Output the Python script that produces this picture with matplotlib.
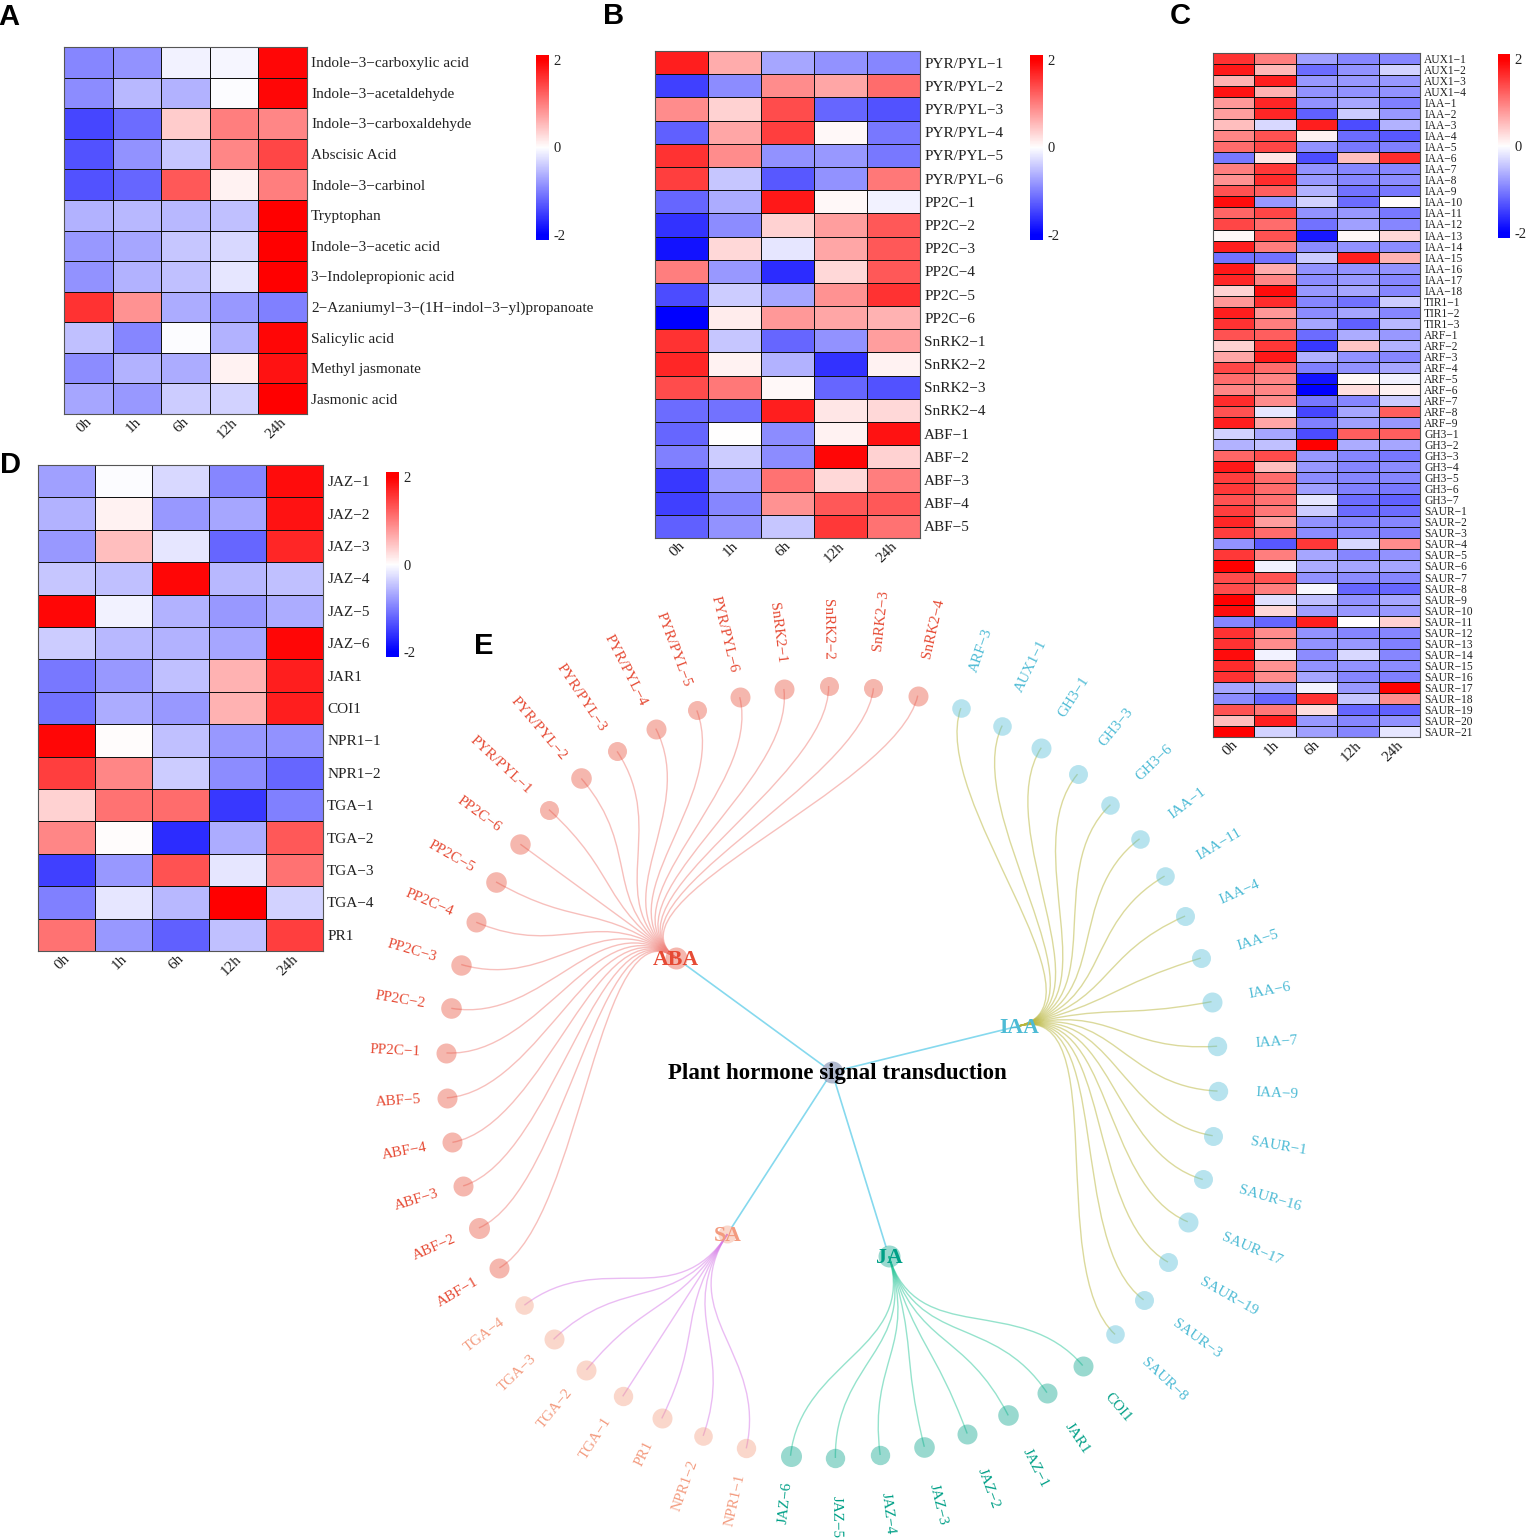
# Hormone heatmaps (A-D) and radial signal transduction tree (E)
import numpy as np
import matplotlib
matplotlib.use("Agg")
import matplotlib.pyplot as plt
from matplotlib.colors import LinearSegmentedColormap
from matplotlib.path import Path
from matplotlib.patches import PathPatch
from matplotlib.transforms import ScaledTranslation

plt.rcParams["font.family"] = ["Liberation Serif", "DejaVu Sans"]

# ------------------------------------------------------------------------------
# Data
times = ["0h", "1h", "6h", "12h", "24h"]

labels_a = ["Indole−3−carboxylic acid", "Indole−3−acetaldehyde", "Indole−3−carboxaldehyde",
            "Abscisic Acid", "Indole−3−carbinol", "Tryptophan", "Indole−3−acetic acid",
            "3−Indolepropionic acid", "2−Azaniumyl−3−(1H−indol−3−yl)propanoate",
            "Salicylic acid", "Methyl jasmonate", "Jasmonic acid"]
values_a = [[-0.95, -0.85, -0.10, -0.07, 1.95],
            [-0.90, -0.55, -0.60, -0.02, 1.95],
            [-1.45, -1.15, 0.40, 1.00, 0.95],
            [-1.35, -0.85, -0.45, 0.95, 1.45],
            [-1.35, -1.20, 1.30, 0.10, 1.00],
            [-0.60, -0.55, -0.55, -0.50, 2.00],
            [-0.80, -0.70, -0.45, -0.30, 2.00],
            [-0.85, -0.60, -0.50, -0.20, 2.00],
            [1.60, 0.85, -0.65, -0.80, -1.00],
            [-0.50, -0.95, -0.02, -0.60, 1.95],
            [-0.90, -0.60, -0.65, 0.10, 1.85],
            [-0.70, -0.80, -0.40, -0.35, 2.00]]

labels_b = ["PYR/PYL−1", "PYR/PYL−2", "PYR/PYL−3", "PYR/PYL−4", "PYR/PYL−5", "PYR/PYL−6",
            "PP2C−1", "PP2C−2", "PP2C−3", "PP2C−4", "PP2C−5", "PP2C−6",
            "SnRK2−1", "SnRK2−2", "SnRK2−3", "SnRK2−4",
            "ABF−1", "ABF−2", "ABF−3", "ABF−4", "ABF−5"]
values_b = [[1.75, 0.65, -0.70, -0.85, -0.95],
            [-1.50, -0.90, 0.90, 0.70, 1.15],
            [0.90, 0.35, 1.40, -1.20, -1.35],
            [-1.25, 0.70, 1.50, 0.05, -1.05],
            [1.60, 0.90, -0.85, -0.80, -1.05],
            [1.50, -0.45, -1.30, -0.85, 1.05],
            [-1.20, -0.65, 1.80, 0.05, -0.10],
            [-1.60, -0.90, 0.35, 0.75, 1.30],
            [-1.85, 0.30, -0.20, 0.70, 1.30],
            [1.00, -0.80, -1.65, 0.30, 1.30],
            [-1.40, -0.40, -0.70, 0.85, 1.60],
            [-2.00, 0.15, 0.80, 0.70, 0.60],
            [1.60, -0.45, -1.20, -0.85, 0.75],
            [1.70, 0.10, -0.60, -1.60, 0.10],
            [1.40, 1.05, 0.05, -1.20, -1.35],
            [-1.15, -1.10, 1.75, 0.20, 0.30],
            [-1.20, 0.00, -0.90, 0.10, 1.85],
            [-1.00, -0.40, -0.90, 1.95, 0.35],
            [-1.55, -0.75, 1.10, 0.30, 1.00],
            [-1.50, -0.95, 0.85, 1.30, 1.30],
            [-1.25, -0.85, -0.45, 1.55, 1.10]]

labels_c = ["AUX1−1", "AUX1−2", "AUX1−3", "AUX1−4", "IAA−1", "IAA−2", "IAA−3", "IAA−4", "IAA−5",
            "IAA−6", "IAA−7", "IAA−8", "IAA−9", "IAA−10", "IAA−11", "IAA−12", "IAA−13", "IAA−14",
            "IAA−15", "IAA−16", "IAA−17", "IAA−18", "TIR1−1", "TIR1−2", "TIR1−3", "ARF−1", "ARF−2",
            "ARF−3", "ARF−4", "ARF−5", "ARF−6", "ARF−7", "ARF−8", "ARF−9", "GH3−1", "GH3−2",
            "GH3−3", "GH3−4", "GH3−5", "GH3−6", "GH3−7", "SAUR−1", "SAUR−2", "SAUR−3", "SAUR−4",
            "SAUR−5", "SAUR−6", "SAUR−7", "SAUR−8", "SAUR−9", "SAUR−10", "SAUR−11", "SAUR−12",
            "SAUR−13", "SAUR−14", "SAUR−15", "SAUR−16", "SAUR−17", "SAUR−18", "SAUR−19",
            "SAUR−20", "SAUR−21"]
values_c = [[1.60, 1.00, -0.75, -0.95, -0.95],
            [1.80, 0.55, -1.15, -0.85, -0.35],
            [0.60, 1.75, -0.80, -0.80, -0.80],
            [1.85, 0.60, -0.85, -0.85, -0.85],
            [0.80, 1.70, -0.85, -0.70, -1.00],
            [0.75, 1.70, -1.25, -0.40, -0.80],
            [0.50, -0.30, 1.75, -1.40, -0.60],
            [0.95, 1.35, 0.10, -1.15, -1.30],
            [1.15, 1.45, -0.85, -1.05, -1.00],
            [-1.05, 0.20, -1.40, 0.50, 1.65],
            [1.00, 1.55, -0.85, -0.95, -0.95],
            [0.85, 1.65, -0.80, -0.95, -0.90],
            [1.35, 1.25, -0.60, -1.10, -1.05],
            [1.90, -0.80, -0.35, -1.15, 0.02],
            [1.20, 1.45, -0.85, -0.80, -1.05],
            [1.45, 1.15, -1.10, -0.75, -0.95],
            [0.05, 1.35, -1.80, 0.05, 0.30],
            [1.75, 1.00, -0.90, -0.85, -0.90],
            [-1.10, -1.10, -0.40, 1.75, 0.60],
            [1.80, 0.65, -0.85, -0.85, -0.85],
            [1.70, 0.95, -0.90, -0.80, -0.95],
            [0.35, 1.90, -0.80, -0.70, -0.95],
            [0.80, 1.65, -0.95, -1.10, -0.40],
            [1.75, 0.80, -0.90, -0.70, -0.95],
            [1.60, 1.00, -0.70, -1.25, -0.55],
            [1.35, 1.25, -1.15, -0.65, -0.80],
            [0.35, 1.55, -1.55, 0.45, -0.60],
            [0.70, 1.80, -0.60, -0.85, -0.95],
            [1.45, 1.15, -1.00, -0.85, -0.70],
            [1.15, 0.95, -1.85, 0.05, -0.10],
            [0.95, 0.95, -2.00, 0.25, 0.10],
            [1.65, 0.90, -1.05, -0.95, -0.40],
            [1.35, -0.20, -1.45, -0.70, 1.25],
            [1.75, 0.70, -1.00, -0.75, -0.80],
            [-0.35, -0.70, -1.40, 1.25, 1.25],
            [-0.60, -0.50, 2.00, -0.65, -0.70],
            [1.20, 1.40, -0.80, -0.95, -1.05],
            [1.80, 0.50, -0.80, -0.95, -0.90],
            [1.50, 1.15, -0.90, -0.95, -0.95],
            [1.55, 1.15, -0.75, -1.00, -1.05],
            [1.35, 1.10, -0.20, -1.15, -1.25],
            [1.50, 1.05, -0.40, -1.15, -1.15],
            [1.70, 0.75, -0.85, -0.95, -0.95],
            [1.50, 1.15, -0.90, -0.90, -1.00],
            [-0.85, -1.30, 1.55, -0.30, 0.90],
            [1.55, 1.00, -0.70, -0.95, -0.85],
            [2.00, -0.10, -0.65, -0.70, -0.70],
            [1.40, 1.35, -0.85, -0.90, -0.95],
            [1.40, 1.00, -0.05, -1.20, -1.20],
            [2.00, -0.25, -0.50, -0.85, -0.70],
            [1.90, 0.30, -0.75, -0.80, -0.80],
            [-0.95, -1.20, 1.75, 0.00, 0.35],
            [1.60, 0.90, -0.85, -0.95, -0.95],
            [1.60, 0.90, -0.85, -0.80, -1.00],
            [1.90, -0.10, -0.90, -0.30, -0.95],
            [1.65, 0.85, -0.85, -0.85, -0.90],
            [1.60, 0.90, -0.70, -0.95, -1.00],
            [-0.70, -0.70, -0.08, -0.80, 2.00],
            [-0.90, -1.20, 1.60, -0.45, 0.90],
            [1.35, 1.05, 0.25, -1.20, -1.25],
            [0.50, 1.75, -0.80, -0.95, -0.85],
            [2.00, -0.35, -0.75, -0.95, -0.20]]

labels_d = ["JAZ−1", "JAZ−2", "JAZ−3", "JAZ−4", "JAZ−5", "JAZ−6", "JAR1", "COI1", "NPR1−1",
            "NPR1−2", "TGA−1", "TGA−2", "TGA−3", "TGA−4", "PR1"]
values_d = [[-0.75, -0.02, -0.30, -0.95, 1.90],
            [-0.60, 0.10, -0.80, -0.70, 1.85],
            [-0.80, 0.50, -0.20, -1.20, 1.70],
            [-0.45, -0.50, 1.95, -0.55, -0.50],
            [1.95, -0.10, -0.60, -0.80, -0.65],
            [-0.40, -0.55, -0.60, -0.70, 1.95],
            [-1.05, -0.80, -0.50, 0.60, 1.75],
            [-1.10, -0.65, -0.80, 0.60, 1.75],
            [1.95, 0.02, -0.50, -0.80, -0.85],
            [1.50, 0.95, -0.40, -0.90, -1.20],
            [0.35, 1.10, 1.15, -1.55, -1.00],
            [0.95, 0.02, -1.65, -0.65, 1.30],
            [-1.50, -0.80, 1.35, -0.20, 1.10],
            [-1.00, -0.20, -0.55, 2.00, -0.35],
            [1.10, -0.80, -1.25, -0.50, 1.50]]

# Tree, clockwise around the ring starting at ARF-3
leaves_iaa = ["ARF−3", "AUX1−1", "GH3−1", "GH3−3", "GH3−6", "IAA−1", "IAA−11", "IAA−4", "IAA−5",
              "IAA−6", "IAA−7", "IAA−9", "SAUR−1", "SAUR−16", "SAUR−17", "SAUR−19", "SAUR−3", "SAUR−8"]
leaves_ja = ["COI1", "JAR1", "JAZ−1", "JAZ−2", "JAZ−3", "JAZ−4", "JAZ−5", "JAZ−6"]
leaves_sa = ["NPR1−1", "NPR1−2", "PR1", "TGA−1", "TGA−2", "TGA−3", "TGA−4"]
leaves_aba = ["ABF−1", "ABF−2", "ABF−3", "ABF−4", "ABF−5", "PP2C−1", "PP2C−2", "PP2C−3", "PP2C−4",
              "PP2C−5", "PP2C−6", "PYR/PYL−1", "PYR/PYL−2", "PYR/PYL−3", "PYR/PYL−4", "PYR/PYL−5",
              "PYR/PYL−6", "SnRK2−1", "SnRK2−2", "SnRK2−3", "SnRK2−4"]
# node radius of each leaf, in px of the picture
sizes_iaa = [9.3, 9.3, 10, 9.5, 9.3, 9.3, 9.3, 9.5, 9.5, 10, 9.7, 9.7, 9.5, 9.5, 10, 9.5, 9.5, 9.3]
sizes_ja = [10, 10, 10.3, 10, 10.3, 9.7, 9.7, 10.5]
sizes_sa = [9.7, 9.3, 10, 9.7, 10, 10, 9.3]
sizes_aba = [10, 10.5, 10, 10, 10, 10, 10.3, 10.2, 10, 10.3, 10.2, 9.5, 10.3, 9.5, 10, 9.5, 10, 10, 9.5, 9.5, 10]
# hub radius, the IAA hub is too small to see
hub_sizes = {"IAA": 1, "JA": 11, "SA": 9, "ABA": 11}

# ------------------------------------------------------------------------------
W, H = 1533, 1540
fig = plt.figure(figsize=(W / 100, H / 100), dpi=100)
cmap = LinearSegmentedColormap.from_list("bwr2", ["#0000FF", "#FFFFFF", "#FF0000"], N=256)


def px_axes(x0, y0, x1, y1):
    # axes from pixel box, y measured from the top of the picture
    return fig.add_axes([x0 / W, 1 - y1 / H, (x1 - x0) / W, (y1 - y0) / H])


def heatmap(box, cbar_box, values, labels, label_size, tick_size):
    ax = px_axes(*box)
    data = np.array(values)
    ax.pcolormesh(data, cmap=cmap, vmin=-2, vmax=2, edgecolors="#111111", linewidth=0.5)
    ax.set_ylim(len(labels), 0)
    ax.yaxis.tick_right()
    ax.set_yticks(np.arange(len(labels)) + 0.5, labels, fontsize=label_size, color="#222222")
    ax.set_xticks(np.arange(5) + 0.5, times, fontsize=tick_size, rotation=45, color="#222222",
                  ha="right", rotation_mode="anchor")
    ax.tick_params(length=0, pad=3)
    ax.tick_params(axis="x", pad=1)
    # labels sit a little left of the cell centre
    shift = ScaledTranslation(-3 / 100, 0, fig.dpi_scale_trans)
    for label in ax.get_xticklabels():
        label.set_transform(label.get_transform() + shift)
    for spine in ax.spines.values():
        spine.set_color("#555555")
        spine.set_linewidth(0.8)

    cax = px_axes(*cbar_box)
    grad = np.linspace(2.11, -2.11, 200).reshape(-1, 1)
    cax.imshow(grad, cmap=cmap, vmin=-2, vmax=2, aspect="auto", extent=[0, 1, -2.11, 2.11])
    cax.set_xticks([])
    cax.yaxis.tick_right()
    cax.set_yticks([-2, 0, 2], ["-2", "0", "2"], fontsize=10.5, color="#222222")
    cax.tick_params(length=0, pad=3)
    for spine in cax.spines.values():
        spine.set_visible(False)


heatmap((64, 47, 307, 414), (536, 55, 549, 240), values_a, labels_a, 11, 11)
heatmap((655, 51, 920, 538), (1030, 55, 1043, 240), values_b, labels_b, 11, 11)
heatmap((1213, 53, 1420, 737), (1498, 54, 1510, 238), values_c, labels_c, 8.3, 11)
heatmap((38, 465, 323, 951), (386, 472, 399, 657), values_d, labels_d, 11, 11)

# ------------------------------------------------------------------------------
# Panel E drawn on a full figure axes in picture pixels
net = fig.add_axes([0, 0, 1, 1], zorder=5)
net.set_xlim(0, W)
net.set_ylim(H, 0)
net.axis("off")

cx, cy = 832, 1072
r_leaf, r_hub = 386, 193
step = 360 / 54


def polar(r, deg):
    return cx + r * np.cos(np.radians(deg)), cy - r * np.sin(np.radians(deg))


groups = [
    ("IAA", leaves_iaa, sizes_iaa, "#4DBBD5", "#B8B53A"),
    ("JA", leaves_ja, sizes_ja, "#00A087", "#2CC79A"),
    ("SA", leaves_sa, sizes_sa, "#F39B7F", "#D67BE8"),
    ("ABA", leaves_aba, sizes_aba, "#E64B35", "#F0817A"),
]

angle = 70.5
for hub, leaves, sizes, colour, edge_colour in groups:
    angles = angle - step * np.arange(len(leaves))
    angle = angles[-1] - step
    hub_angle = angles.mean()
    hx, hy = polar(r_hub, hub_angle)

    # trunk from the root, stopping at the edge of both circles
    x0, y0 = polar(11, hub_angle)
    x1, y1 = polar(r_hub - hub_sizes[hub], hub_angle)
    net.plot([x0, x1], [y0, y1], color="#86D9EE", lw=1.2, zorder=1)

    for name, a, size in zip(leaves, angles, sizes):
        lx, ly = polar(r_leaf, a)
        p1 = polar((r_hub + r_leaf) / 2, hub_angle)
        p2 = polar((r_hub + r_leaf) / 2, a)
        path = Path([(hx, hy), p1, p2, (lx, ly)], [Path.MOVETO, Path.CURVE4, Path.CURVE4, Path.CURVE4])
        net.add_patch(PathPatch(path, fc="none", ec=edge_colour, lw=1.0, alpha=0.5, zorder=2))
        net.scatter(lx, ly, s=(2 * size * 0.72) ** 2, color=colour, alpha=0.4, linewidths=0, zorder=3)

        a_norm = a % 360
        if 90 < a_norm < 270:
            tx, ty = polar(412, a)
            net.text(tx, ty, name, color=colour, fontsize=10.9, rotation=a_norm - 180,
                     rotation_mode="anchor", ha="right", va="center")
        else:
            tx, ty = polar(424, a)
            net.text(tx, ty, name, color=colour, fontsize=10.9, rotation=a_norm,
                     rotation_mode="anchor", ha="left", va="center")

    net.scatter(hx, hy, s=(2 * hub_sizes[hub] * 0.72) ** 2, color=colour, alpha=0.4, linewidths=0, zorder=3)
    net.text(hx, hy + 2, hub, color=colour, fontsize=15.7, fontweight="bold", ha="center", va="center", zorder=6)

net.scatter(cx, cy, s=(2 * 11 * 0.72) ** 2, color="#3C5488", alpha=0.4, linewidths=0, zorder=3)
net.text(837.5, 1073, "Plant hormone signal transduction", fontsize=16.5, fontweight="bold",
         color="black", ha="center", va="center", zorder=6)

# Panel letters
for letter, x, y in [("A", 9, 17), ("B", 614, 16), ("C", 1180, 16), ("D", 10, 465), ("E", 484, 646)]:
    net.text(x, y, letter, family="Liberation Sans", fontsize=21, fontweight="bold",
             ha="center", va="center", color="black")

fig.savefig("out.png", dpi=100)
